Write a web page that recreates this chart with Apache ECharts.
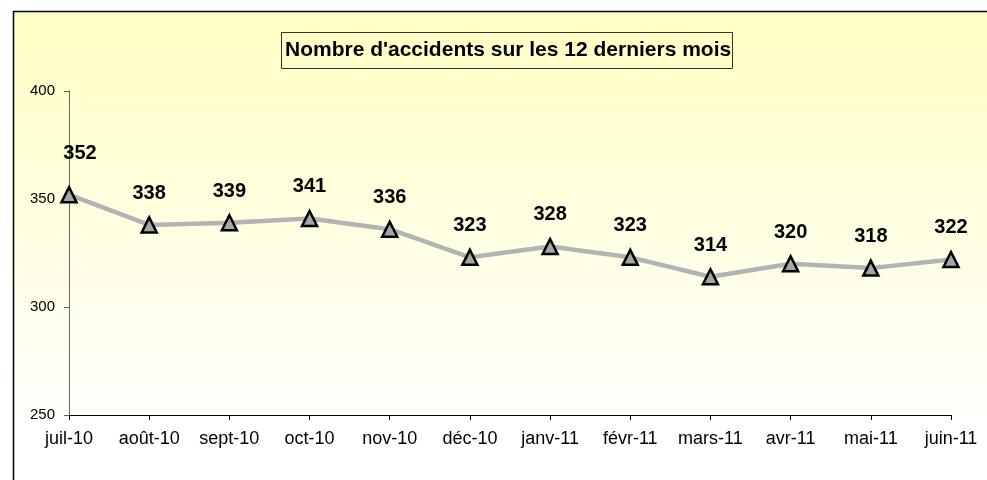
<!DOCTYPE html>
<html>
<head>
<meta charset="utf-8">
<script src="https://cdn.jsdelivr.net/npm/echarts@6/dist/echarts.min.js"></script>
<style>
html, body { margin: 0; padding: 0; background: #fff; }
#chart { width: 987px; height: 480px; }
</style>
</head>
<body>
<div id="chart"></div>
<script>
var months = ['juil-10', 'août-10', 'sept-10', 'oct-10', 'nov-10', 'déc-10',
    'janv-11', 'févr-11', 'mars-11', 'avr-11', 'mai-11', 'juin-11'];
var accidents = [352, 338, 339, 341, 336, 323, 328, 323, 314, 320, 318, 322];
var yTicks = { min: 250, max: 400, step: 50 };

var font = "'Liberation Sans', Arial, sans-serif";
var dom = document.getElementById('chart');
var myChart = echarts.init(dom);

// first label sits a bit higher and to the right in the original
var seriesData = accidents.map(function (v, i) {
    if (i === 0) {
        return { value: v, label: { offset: [11, -9] } };
    }
    return v;
});

var option = {
    animation: false,
    graphic: [{
        type: 'rect',
        z: -10,
        shape: { x: 13.5, y: 11.5, width: 1000, height: 500 },
        style: {
            fill: new echarts.graphic.LinearGradient(0, 0, 0, 1, [
                { offset: 0, color: '#FFFFC2' },
                { offset: 0.85, color: '#FFFFFF' }
            ]),
            stroke: '#000',
            lineWidth: 1.5
        }
    }],
    title: {
        text: "Nombre d'accidents sur les 12 derniers mois",
        left: 281,
        top: 32,
        padding: [8, 2, 8, 4],
        borderColor: '#333',
        borderWidth: 1,
        textStyle: {
            fontFamily: font,
            fontSize: 21,
            fontWeight: 'bold',
            color: '#000'
        }
    },
    grid: {
        left: 69,
        right: 36,
        top: 91,
        bottom: 65
    },
    xAxis: {
        type: 'category',
        boundaryGap: false,
        data: months,
        axisLine: { lineStyle: { color: '#000', width: 1 } },
        axisTick: { show: true, length: 5, alignWithLabel: true, lineStyle: { color: '#000' } },
        axisLabel: {
            interval: 0,
            margin: 15,
            color: '#000',
            fontFamily: font,
            fontSize: 18
        },
        splitLine: { show: false }
    },
    yAxis: {
        type: 'value',
        min: yTicks.min,
        max: yTicks.max,
        interval: yTicks.step,
        axisLine: { show: true, lineStyle: { color: '#666', width: 1 } },
        axisTick: { show: true, length: 5, lineStyle: { color: '#666' } },
        axisLabel: {
            margin: 14,
            color: '#000',
            fontFamily: font,
            fontSize: 15
        },
        splitLine: { show: false }
    },
    series: [{
        name: 'accidents',
        type: 'line',
        data: seriesData,
        symbol: 'triangle',
        symbolSize: 15,
        showSymbol: true,
        lineStyle: { color: '#B3B3B3', width: 4.5 },
        itemStyle: { color: '#A6A6A6', borderColor: '#000', borderWidth: 2.5 },
        label: {
            show: true,
            position: 'top',
            distance: 13,
            color: '#000',
            fontFamily: font,
            fontSize: 20,
            fontWeight: 'bold'
        }
    }]
};

if (option && typeof option === 'object') {
    myChart.setOption(option, true);
}
</script>
</body>
</html>
